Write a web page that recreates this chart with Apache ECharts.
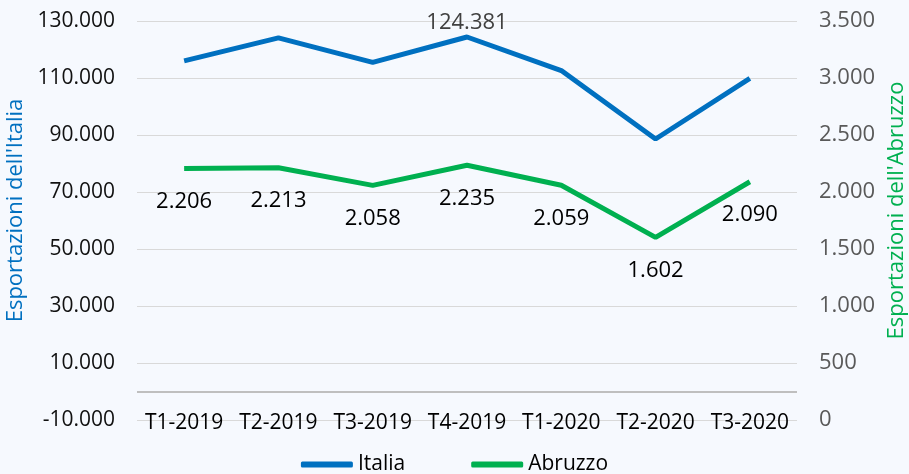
<!DOCTYPE html>
<html>
<head>
<meta charset="utf-8">
<title>Esportazioni</title>
<script src="https://cdn.jsdelivr.net/npm/echarts@6/dist/echarts.min.js"></script>
<style>
  html, body { margin: 0; padding: 0; background: #f6f9fe; }
  #chart { width: 909px; height: 474px; }
</style>
</head>
<body>
<div id="chart"></div>
<script>
// dati
const categories = ['T1-2019', 'T2-2019', 'T3-2019', 'T4-2019', 'T1-2020', 'T2-2020', 'T3-2020']
const italia = [116000, 124100, 115500, 124381, 112600, 88600, 109900]
const abruzzo = [2206, 2213, 2058, 2235, 2059, 1602, 2090]
const italiaLabelled = [3]

const FONT = 'Open Sans'

// separatore delle migliaia all'italiana
function fmt (v) {
  const s = String(Math.abs(v)).replace(/\B(?=(\d{3})+(?!\d))/g, '.')
  return v < 0 ? '-' + s : s
}

const myChart = echarts.init(document.getElementById('chart'))

myChart.setOption({
  backgroundColor: '#f6f9fe',
  textStyle: { fontFamily: FONT },
  grid: { left: 137, right: 112, top: 21, bottom: 54, outerBoundsMode: 'none', containLabel: false },
  legend: {
    top: 449,
    left: 'center',
    icon: 'roundRect',
    itemWidth: 52,
    itemHeight: 6,
    itemGap: 66,
    textStyle: { fontFamily: FONT, fontSize: 21, color: '#000' },
    data: ['Italia', 'Abruzzo']
  },
  xAxis: {
    type: 'category',
    data: categories,
    axisLine: { show: false },
    axisTick: { show: false },
    axisLabel: {
      interval: 0,
      fontFamily: FONT,
      fontSize: 21,
      color: '#000',
      verticalAlign: 'middle',
      margin: 3
    }
  },
  yAxis: [
    {
      type: 'value',
      min: -10000,
      max: 130000,
      interval: 10000,
      name: "Esportazioni dell'Italia",
      nameLocation: 'middle',
      nameRotate: 90,
      nameGap: 106,
      nameTextStyle: { fontFamily: FONT, fontSize: 22, color: '#0070c0', padding: [0, 0, 0, 20] },
      axisLine: { show: false },
      axisTick: { show: false },
      axisLabel: {
        fontFamily: FONT,
        fontSize: 21,
        color: '#111',
        margin: 22,
        formatter: v => ((v + 10000) % 20000 === 0 ? fmt(v) : '')
      },
      splitLine: {
        show: true,
        lineStyle: { color: ['#d9d9d9', 'rgba(0,0,0,0)'], width: 1 }
      }
    },
    {
      type: 'value',
      min: 0,
      max: 3500,
      interval: 500,
      name: "Esportazioni dell'Abruzzo",
      nameLocation: 'middle',
      nameRotate: 90,
      nameGap: 86,
      nameTextStyle: { fontFamily: FONT, fontSize: 22, color: '#00b050', padding: [0, 0, 0, 20] },
      axisLine: { show: false },
      axisTick: { show: false },
      splitLine: { show: false },
      axisLabel: {
        fontFamily: FONT,
        fontSize: 22,
        color: '#595959',
        margin: 22,
        formatter: v => fmt(v)
      }
    }
  ],
  series: [
    {
      name: 'Italia',
      type: 'line',
      yAxisIndex: 0,
      symbol: 'circle',
      symbolSize: 0.5,
      showSymbol: true,
      lineStyle: { color: '#0070c0', width: 5 },
      itemStyle: { color: '#0070c0' },
      data: italia.map((v, i) => italiaLabelled.includes(i)
        ? { value: v, label: { show: true } }
        : v),
      label: {
        show: false,
        position: 'top',
        distance: 3,
        fontFamily: FONT,
        fontSize: 22,
        color: '#404040',
        formatter: p => fmt(p.value)
      },
      markLine: {
        silent: true,
        symbol: 'none',
        label: { show: false },
        lineStyle: { color: '#bfbfbf', width: 2, type: 'solid' },
        data: [{ yAxis: 0 }]
      }
    },
    {
      name: 'Abruzzo',
      type: 'line',
      yAxisIndex: 1,
      symbol: 'circle',
      symbolSize: 0.5,
      showSymbol: true,
      lineStyle: { color: '#00b050', width: 5 },
      itemStyle: { color: '#00b050' },
      data: abruzzo,
      label: {
        show: true,
        position: 'bottom',
        distance: 22,
        fontFamily: FONT,
        fontSize: 22,
        color: '#000',
        formatter: p => fmt(p.value)
      }
    }
  ]
})
</script>
</body>
</html>
